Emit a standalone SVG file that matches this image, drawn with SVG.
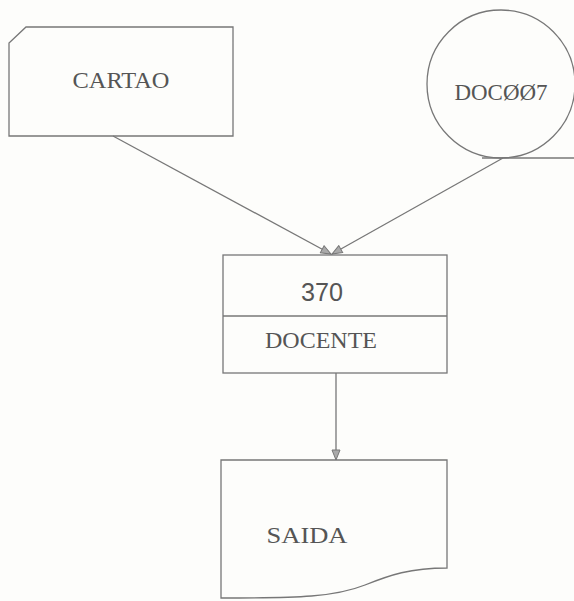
<svg xmlns="http://www.w3.org/2000/svg" width="574" height="601" viewBox="0 0 574 601">
<style>
.s{fill:none;stroke:#777;stroke-width:1.3}
.t{font-family:"Liberation Serif",serif;fill:#555;font-size:23px}
.d{font-family:"Liberation Sans",sans-serif;fill:#555;font-size:25px}
</style>
<defs>
<marker id="ah" markerWidth="12" markerHeight="10" refX="11" refY="5" orient="auto" markerUnits="userSpaceOnUse">
<path d="M1,1 L11,5 L1,9 Z" fill="#aaa" stroke="#777" stroke-width="1"/>
</marker>
</defs>
<rect width="574" height="601" fill="#fdfdfb"/>
<g id="cartao">
<path class="s" d="M26,27 H233 V136 H9 V43 Z"/>
<text class="t" x="121" y="88" text-anchor="middle" textLength="97" lengthAdjust="spacingAndGlyphs">CARTAO</text>
</g>
<g id="doc007">
<circle class="s" cx="501" cy="84" r="74"/>
<line class="s" x1="482" y1="158" x2="574" y2="158"/>
<text class="t" x="501" y="100" text-anchor="middle" textLength="93" lengthAdjust="spacingAndGlyphs">DOCØØ7</text>
</g>
<g id="docente">
<rect class="s" x="223" y="255" width="224" height="118"/>
<line class="s" x1="223" y1="316" x2="447" y2="316"/>
<text class="d" x="322" y="301" text-anchor="middle" textLength="42" lengthAdjust="spacingAndGlyphs">370</text>
<text class="t" x="321" y="348" text-anchor="middle" textLength="112" lengthAdjust="spacingAndGlyphs">DOCENTE</text>
</g>
<g id="saida">
<path class="s" d="M221,460 H447 V568 C410,568 390,575 365,585 C335,597 300,598 221,598 Z"/>
<text class="t" x="307" y="543" text-anchor="middle" textLength="81" lengthAdjust="spacingAndGlyphs">SAIDA</text>
</g>
<g id="connectors">
<line class="s" x1="113" y1="136" x2="331" y2="254" marker-end="url(#ah)"/>
<line class="s" x1="503" y1="158" x2="332" y2="254" marker-end="url(#ah)"/>
<line class="s" x1="336" y1="373" x2="336" y2="460" marker-end="url(#ah)"/>
</g>
</svg>
